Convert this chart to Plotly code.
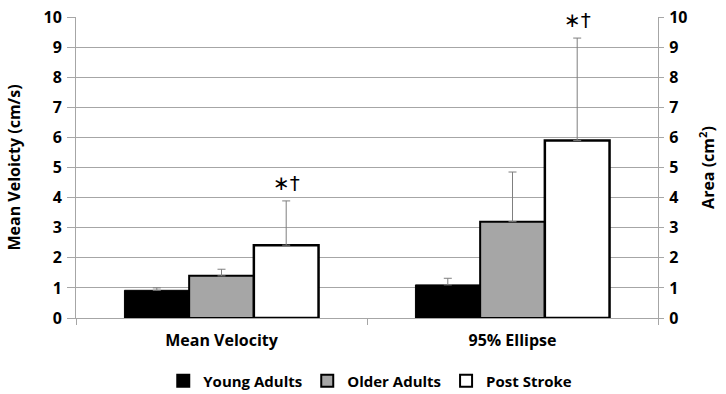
import plotly.graph_objects as go

# Balance measures by group
measures = ["Mean Velocity", "95% Ellipse"]
groups = ["Young Adults", "Older Adults", "Post Stroke"]
young = [0.92, 1.1]
older = [1.4, 3.2]
stroke = [2.42, 5.9]
young_sd = [0.08, 0.22]
older_sd = [0.22, 1.65]
stroke_sd = [1.47, 3.4]
y_ticks = list(range(0, 11))

fills = ["#000000", "#a6a6a6", "#ffffff"]
edges = [1, 2, 2.5]
means = [young, older, stroke]
sds = [young_sd, older_sd, stroke_sd]

FONT = "Open Sans"
GRID = "#a6a6a6"


def bold(size):
    return dict(family=FONT, size=size, color="#000000", weight="bold")


fig = go.Figure()
for name, vals, err, fc, lw in zip(groups, means, sds, fills, edges):
    fig.add_trace(go.Bar(
        x=measures, y=vals, name=name,
        marker=dict(color=fc, line=dict(color="#000000", width=lw)),
        error_y=dict(type="data", array=err, arrayminus=[0] * len(err),
                     symmetric=False, color="#7f7f7f", thickness=1, width=4),
    ))

# significance markers above the post-stroke bars
for i, (v, e) in enumerate(zip(stroke, stroke_sd)):
    fig.add_annotation(x=i + 0.222, y=v + e, yshift=4, text="∗†", showarrow=False,
                       yanchor="bottom", xref="x", yref="y",
                       font=dict(family="DejaVu Sans", size=20, color="#000000",
                                 weight="normal"))

# invisible trace to carry the secondary axis
fig.add_trace(go.Scatter(x=measures, y=[0, 0], yaxis="y2", mode="markers",
                         marker=dict(opacity=0), showlegend=False, hoverinfo="skip"))

fig.update_layout(
    width=726, height=394,
    margin=dict(l=76, r=68, t=17, b=76, autoexpand=False),
    paper_bgcolor="white", plot_bgcolor="white",
    barmode="group", bargap=0.333, bargroupgap=0,
    font=bold(15),
    showlegend=True,
    legend=dict(orientation="h", x=0.51, xanchor="center", y=0.033, yanchor="middle",
                xref="container", yref="container",
                font=bold(15), itemsizing="constant", traceorder="normal",
                itemwidth=30, tracegroupgap=0),
    xaxis=dict(type="category", showgrid=False, showline=True, linecolor=GRID,
               ticks="outside", tickson="boundaries", ticklen=6, tickcolor=GRID,
               tickfont=bold(16), ticklabelstandoff=8, zeroline=False),
    yaxis=dict(range=[0, 10], tickvals=y_ticks, showgrid=True, gridcolor=GRID,
               gridwidth=1, showline=True, linecolor=GRID, ticks="outside",
               ticklen=8, tickcolor=GRID, zeroline=False,
               tickfont=bold(16), ticklabelstandoff=2,
               title=dict(text="Mean Veloicty (cm/s)", standoff=18, font=bold(16))),
    yaxis2=dict(range=[0, 10], tickvals=y_ticks, overlaying="y", side="right",
                showgrid=False, showline=True, linecolor=GRID, ticks="outside",
                ticklen=5, tickcolor=GRID, zeroline=False,
                tickfont=bold(16), ticklabelstandoff=2,
                title=dict(text="Area (cm<sup>2</sup>)", standoff=16, font=bold(16))),
)

fig.write_html("out.html")
